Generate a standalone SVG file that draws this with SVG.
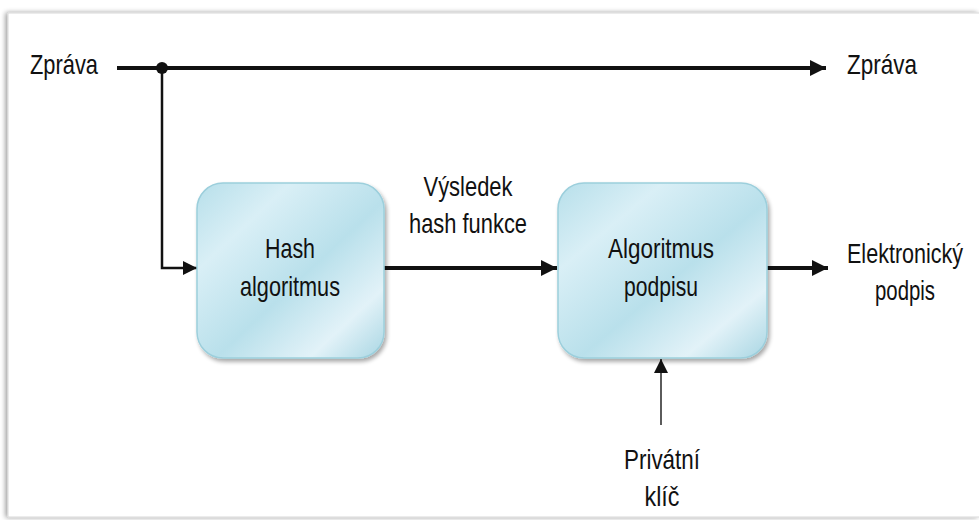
<svg xmlns="http://www.w3.org/2000/svg" width="979" height="520" viewBox="0 0 979 520">
  <defs>
    <style>
      .t { font-family: "Liberation Sans Narrow", "Liberation Sans", Arial, sans-serif; font-size: 28px; fill: #111; }
      .tw { font-family: "Liberation Sans", Arial, sans-serif; font-size: 28px; fill: #111; }
      .box { stroke: #9ccfdc; stroke-width: 1.5; }
      .thick { stroke: #111; stroke-width: 4; fill: none; }
      .mid { stroke: #111; stroke-width: 2.5; fill: none; }
      .thin { stroke: #333; stroke-width: 1.6; fill: none; }
    </style>
    <linearGradient id="g" x1="0" y1="0" x2="1" y2="1">
      <stop offset="0" stop-color="#b7dfea"/>
      <stop offset="0.25" stop-color="#d9eff6"/>
      <stop offset="0.55" stop-color="#b9e0eb"/>
      <stop offset="0.8" stop-color="#e2f2f8"/>
      <stop offset="1" stop-color="#a9d6e3"/>
    </linearGradient>
    <filter id="sh" x="-10%" y="-10%" width="130%" height="130%">
      <feGaussianBlur in="SourceAlpha" stdDeviation="2"/>
      <feOffset dx="2" dy="3"/>
      <feComponentTransfer><feFuncA type="linear" slope="0.35"/></feComponentTransfer>
      <feMerge><feMergeNode/><feMergeNode in="SourceGraphic"/></feMerge>
    </filter>
    <filter id="fsh" x="-5%" y="-5%" width="110%" height="110%">
      <feGaussianBlur in="SourceAlpha" stdDeviation="2.5"/>
      <feOffset dx="-2" dy="0"/>
      <feComponentTransfer><feFuncA type="linear" slope="0.4"/></feComponentTransfer>
      <feMerge><feMergeNode/><feMergeNode in="SourceGraphic"/></feMerge>
    </filter>
    <marker id="ah" markerUnits="userSpaceOnUse" markerWidth="18" markerHeight="16" refX="16" refY="8" orient="auto">
      <path d="M0,0 L16,8 L0,16 Z" fill="#111"/>
    </marker>
    <marker id="ahs" markerUnits="userSpaceOnUse" markerWidth="16" markerHeight="14" refX="14" refY="7" orient="auto">
      <path d="M0,0 L14,7 L0,14 Z" fill="#111"/>
    </marker>
  </defs>

  <rect x="0" y="0" width="979" height="520" fill="#ffffff"/>
  <path d="M979,13 H8 V517 H979" fill="#ffffff" stroke="#d8d8d8" stroke-width="1" filter="url(#fsh)"/>

  <g id="connectors">
    <line class="thick" x1="117" y1="68" x2="826" y2="68" marker-end="url(#ah)"/>
    <circle cx="162" cy="68" r="6" fill="#111"/>
    <polyline class="mid" points="162,68 162,268 197,268" marker-end="url(#ahs)"/>
    <line class="thick" x1="384" y1="268" x2="557" y2="268" marker-end="url(#ah)"/>
    <line class="thick" x1="767" y1="268" x2="828" y2="268" marker-end="url(#ah)"/>
    <line class="thin" x1="661" y1="425" x2="661" y2="359" marker-end="url(#ahs)"/>
  </g>

  <g id="label-zprava-in">
    <text class="t" x="30" y="74" textLength="68" lengthAdjust="spacingAndGlyphs">Zpráva</text>
  </g>
  <g id="label-zprava-out">
    <text class="t" x="847" y="74" textLength="70" lengthAdjust="spacingAndGlyphs">Zpráva</text>
  </g>

  <g id="hash">
    <rect class="box" x="197" y="183" width="187" height="175" rx="26" fill="url(#g)" filter="url(#sh)"/>
    <text class="t" x="290" y="258" text-anchor="middle" textLength="50" lengthAdjust="spacingAndGlyphs">Hash</text>
    <text class="t" x="290" y="296" text-anchor="middle" textLength="100" lengthAdjust="spacingAndGlyphs">algoritmus</text>
  </g>

  <g id="label-vysledek">
    <text class="t" x="468" y="196" text-anchor="middle" textLength="89" lengthAdjust="spacingAndGlyphs">Výsledek</text>
    <text class="t" x="468" y="233" text-anchor="middle" textLength="118" lengthAdjust="spacingAndGlyphs">hash funkce</text>
  </g>

  <g id="podpis">
    <rect class="box" x="558" y="183" width="209" height="175" rx="26" fill="url(#g)" filter="url(#sh)"/>
    <text class="t" x="661" y="258" text-anchor="middle" textLength="106" lengthAdjust="spacingAndGlyphs">Algoritmus</text>
    <text class="t" x="661" y="296" text-anchor="middle" textLength="74" lengthAdjust="spacingAndGlyphs">podpisu</text>
  </g>

  <g id="label-elektronicky">
    <text class="tw" transform="translate(847,263) scale(0.77,1)" x="0" y="0">Elektronický</text>
    <text class="t" x="875" y="300" textLength="60" lengthAdjust="spacingAndGlyphs">podpis</text>
  </g>

  <g id="label-privatni">
    <text class="t" x="662" y="469" text-anchor="middle" textLength="76" lengthAdjust="spacingAndGlyphs">Privátní</text>
    <text class="t" x="662" y="506" text-anchor="middle" textLength="35" lengthAdjust="spacingAndGlyphs">klíč</text>
  </g>
</svg>
